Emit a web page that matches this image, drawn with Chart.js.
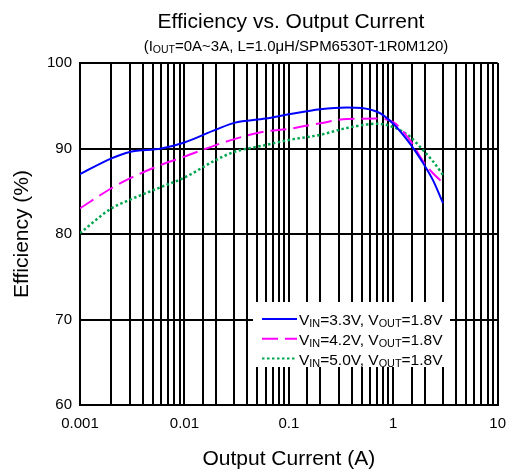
<!DOCTYPE html>
<html>
<head>
<meta charset="utf-8">
<script src="https://cdn.jsdelivr.net/npm/chart.js@4.4.1/dist/chart.umd.min.js"></script>
<style>
    body { margin: 0; background: #ffffff; }
    #wrap { width: 516px; height: 476px; }
</style>
</head>
<body>
<div id="wrap"><canvas id="chart-1" width="516" height="476"></canvas></div>
<script>
// courant de sortie (A)
const currents = [0.001, 0.002, 0.003, 0.006, 0.01, 0.02, 0.03, 0.06, 0.1, 0.2, 0.36, 0.7, 1.0, 1.44, 1.93, 2.4, 3.0];
// rendement (%)
const effVin33 = [87.0, 88.85, 89.6, 90.0, 90.7, 92.2, 93.0, 93.5, 94.0, 94.6, 94.8, 94.3, 92.9, 90.6, 88.3, 86.3, 83.6];
const effVin42 = [83.0, 85.35, 86.5, 88.1, 89.05, 90.4, 91.1, 92.0, 92.3, 92.95, 93.45, 93.5, 93.1, 91.0, 88.5, 87.1, 86.0];
const effVin50 = [80.1, 83.0, 84.0, 85.5, 86.6, 88.65, 89.6, 90.4, 91.0, 91.6, 92.4, 92.9, 92.5, 91.4, 89.8, 88.5, 86.9];

const xTickValues = [0.001, 0.01, 0.1, 1, 10];
const xTickLabels = ["0.001", "0.01", "0.1", "1", "10"];

const FONT = "'Liberation Sans', Arial, sans-serif";

const legendRows = [
    { color: "#0000ff", dash: [], parts: [["V"], ["IN", 1], ["=3.3V, V"], ["OUT", 1], ["=1.8V"]] },
    { color: "#ff00ff", dash: [16, 7], parts: [["V"], ["IN", 1], ["=4.2V, V"], ["OUT", 1], ["=1.8V"]] },
    { color: "#00a650", dash: [2.5, 2.5], parts: [["V"], ["IN", 1], ["=5.0V, V"], ["OUT", 1], ["=1.8V"]] }
];

/**
 * Texte avec indices (subscript)
 */
function drawRich(ctx, parts, x, y, size, align) {
    let width = 0;
    parts.forEach(function(p) {
        ctx.font = (p[1] ? size * 0.7 : size) + "px " + FONT;
        width += ctx.measureText(p[0]).width;
    });
    let cx = align === "center" ? x - width / 2 : x;
    ctx.textAlign = "left";
    ctx.textBaseline = "alphabetic";
    parts.forEach(function(p) {
        ctx.font = (p[1] ? size * 0.7 : size) + "px " + FONT;
        ctx.fillText(p[0], cx, p[1] ? y + 2 : y);
        cx += ctx.measureText(p[0]).width;
    });
}

const textPlugin = {
    id: "textPlugin",
    afterDraw(chart) {
        const ctx = chart.ctx;
        ctx.save();
        ctx.fillStyle = "#000000";
        ctx.font = "21px " + FONT;
        ctx.textAlign = "center";
        ctx.textBaseline = "alphabetic";
        ctx.fillText("Efficiency vs. Output Current", 291, 28);
        drawRich(ctx, [["(I"], ["OUT", 1], ["=0A~3A, L=1.0\u03bcH/SPM6530T-1R0M120)"]], 296, 51, 15, "center");
        ctx.restore();
    },
    afterDatasetsDraw(chart) {
        const ctx = chart.ctx;
        ctx.save();
        ctx.fillStyle = "#ffffff";
        ctx.fillRect(253, 302, 197, 65);
        legendRows.forEach(function(row, i) {
            const y = 319 + i * 19.8;
            ctx.strokeStyle = row.color;
            ctx.lineWidth = 2;
            ctx.setLineDash(row.dash);
            ctx.beginPath();
            ctx.moveTo(262, y);
            ctx.lineTo(297, y);
            ctx.stroke();
            ctx.setLineDash([]);
            ctx.fillStyle = "#000000";
            drawRich(ctx, row.parts, 299, y + 6, 15.5, "left");
        });
        ctx.restore();
    }
};

function makeSeries(values) {
    return currents.map(function(c, i) { return { x: c, y: values[i] }; });
}

const dataChart = {
    datasets: [{
        data: makeSeries(effVin33),
        borderColor: "#0000ff",
        borderWidth: 2
    }, {
        data: makeSeries(effVin42),
        borderColor: "#ff00ff",
        borderWidth: 2,
        borderDash: [16, 7]
    }, {
        data: makeSeries(effVin50),
        borderColor: "#00a650",
        borderWidth: 2.5,
        borderDash: [2.5, 2.5]
    }]
};

const configChart = {
    type: "scatter",
    data: dataChart,
    options: {
        responsive: false,
        animation: false,
        showLine: true,
        layout: { padding: { top: 63, right: 14, left: 0, bottom: 0 } },
        elements: {
            point: { radius: 0 },
            line: { cubicInterpolationMode: "monotone", fill: false }
        },
        plugins: {
            legend: { display: false },
            title: { display: false },
            tooltip: { enabled: false }
        },
        scales: {
            x: {
                type: "logarithmic",
                min: 0.001,
                max: 10,
                afterFit: function(scale) { scale.height = 71; },
                grid: { color: "#000000", lineWidth: 2, drawTicks: false },
                border: { color: "#000000", width: 2 },
                ticks: {
                    padding: 10,
                    color: "#000000",
                    font: { family: FONT, size: 15 },
                    autoSkip: false,
                    maxRotation: 0,
                    callback: function(value) {
                        for (let i = 0; i < xTickValues.length; i++) {
                            if (Math.abs(Math.log10(value) - Math.log10(xTickValues[i])) < 1e-6) return xTickLabels[i];
                        }
                        return "";
                    }
                },
                title: {
                    display: true,
                    text: "Output Current (A)",
                    color: "#000000",
                    font: { family: FONT, size: 21 },
                    padding: { top: 0, bottom: 4 }
                }
            },
            y: {
                min: 60,
                max: 100,
                afterFit: function(scale) { scale.width = 80; },
                grid: { color: "#000000", lineWidth: 2, drawTicks: false },
                border: { color: "#000000", width: 2 },
                ticks: {
                    stepSize: 10,
                    padding: 8,
                    color: "#000000",
                    font: { family: FONT, size: 15 }
                },
                title: {
                    display: true,
                    text: "Efficiency (%)",
                    color: "#000000",
                    font: { family: FONT, size: 21 },
                    padding: { top: 10, bottom: 0 }
                }
            }
        }
    },
    plugins: [textPlugin]
};

const chart = new Chart(document.getElementById("chart-1"), configChart);
</script>
</body>
</html>
